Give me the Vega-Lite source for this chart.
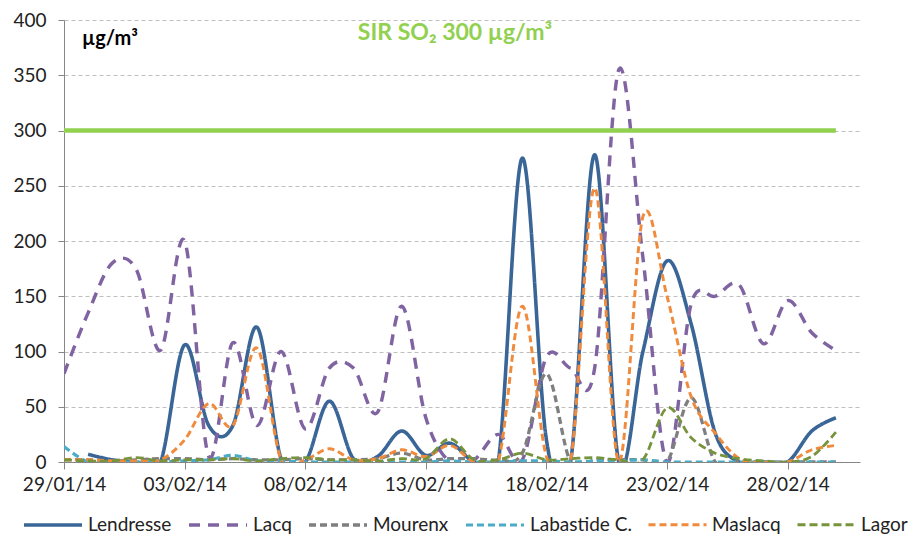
{
  "$schema": "https://vega.github.io/schema/vega-lite/v6.json",
  "width": 796,
  "height": 442,
  "autosize": {"type": "none"},
  "padding": {"left": 64, "top": 20, "right": 50, "bottom": 72},
  "background": "white",
  "config": {
    "font": "Lato",
    "view": {"stroke": null},
    "legend": {
      "title": null, "orient": "none", "direction": "horizontal",
      "legendX": -42, "legendY": 474,
      "symbolType": "stroke", "symbolSize": 3364,
      "labelFont": "Lato", "labelFontSize": 19, "labelColor": "#222222",
      "labelOffset": 4, "columnPadding": 10, "labelLimit": 300
    }
  },
  "layer": [
    {
      "data": {"values": [
        {"date":"2014-01-30","station":"Lendresse","value":7},
        {"date":"2014-01-31","station":"Lendresse","value":2},
        {"date":"2014-02-01","station":"Lendresse","value":0},
        {"date":"2014-02-02","station":"Lendresse","value":0},
        {"date":"2014-02-03","station":"Lendresse","value":106},
        {"date":"2014-02-04","station":"Lendresse","value":33},
        {"date":"2014-02-05","station":"Lendresse","value":33},
        {"date":"2014-02-06","station":"Lendresse","value":122},
        {"date":"2014-02-07","station":"Lendresse","value":3},
        {"date":"2014-02-08","station":"Lendresse","value":0},
        {"date":"2014-02-09","station":"Lendresse","value":55},
        {"date":"2014-02-10","station":"Lendresse","value":3},
        {"date":"2014-02-11","station":"Lendresse","value":5},
        {"date":"2014-02-12","station":"Lendresse","value":28},
        {"date":"2014-02-13","station":"Lendresse","value":6},
        {"date":"2014-02-14","station":"Lendresse","value":17},
        {"date":"2014-02-15","station":"Lendresse","value":0},
        {"date":"2014-02-16","station":"Lendresse","value":0},
        {"date":"2014-02-17","station":"Lendresse","value":275},
        {"date":"2014-02-18","station":"Lendresse","value":20},
        {"date":"2014-02-19","station":"Lendresse","value":0},
        {"date":"2014-02-20","station":"Lendresse","value":278},
        {"date":"2014-02-21","station":"Lendresse","value":0},
        {"date":"2014-02-22","station":"Lendresse","value":100},
        {"date":"2014-02-23","station":"Lendresse","value":182},
        {"date":"2014-02-24","station":"Lendresse","value":125},
        {"date":"2014-02-25","station":"Lendresse","value":26},
        {"date":"2014-02-26","station":"Lendresse","value":0},
        {"date":"2014-02-27","station":"Lendresse","value":0},
        {"date":"2014-02-28","station":"Lendresse","value":0},
        {"date":"2014-03-01","station":"Lendresse","value":28},
        {"date":"2014-03-02","station":"Lendresse","value":40},

        {"date":"2014-01-29","station":"Lacq","value":80},
        {"date":"2014-01-30","station":"Lacq","value":135},
        {"date":"2014-01-31","station":"Lacq","value":180},
        {"date":"2014-02-01","station":"Lacq","value":174},
        {"date":"2014-02-02","station":"Lacq","value":101},
        {"date":"2014-02-03","station":"Lacq","value":200},
        {"date":"2014-02-04","station":"Lacq","value":5},
        {"date":"2014-02-05","station":"Lacq","value":108},
        {"date":"2014-02-06","station":"Lacq","value":33},
        {"date":"2014-02-07","station":"Lacq","value":100},
        {"date":"2014-02-08","station":"Lacq","value":30},
        {"date":"2014-02-09","station":"Lacq","value":85},
        {"date":"2014-02-10","station":"Lacq","value":85},
        {"date":"2014-02-11","station":"Lacq","value":45},
        {"date":"2014-02-12","station":"Lacq","value":141},
        {"date":"2014-02-13","station":"Lacq","value":40},
        {"date":"2014-02-14","station":"Lacq","value":0},
        {"date":"2014-02-15","station":"Lacq","value":2},
        {"date":"2014-02-16","station":"Lacq","value":25},
        {"date":"2014-02-17","station":"Lacq","value":2},
        {"date":"2014-02-18","station":"Lacq","value":95},
        {"date":"2014-02-19","station":"Lacq","value":85},
        {"date":"2014-02-20","station":"Lacq","value":85},
        {"date":"2014-02-21","station":"Lacq","value":355},
        {"date":"2014-02-22","station":"Lacq","value":185},
        {"date":"2014-02-23","station":"Lacq","value":0},
        {"date":"2014-02-24","station":"Lacq","value":143},
        {"date":"2014-02-25","station":"Lacq","value":150},
        {"date":"2014-02-26","station":"Lacq","value":160},
        {"date":"2014-02-27","station":"Lacq","value":107},
        {"date":"2014-02-28","station":"Lacq","value":146},
        {"date":"2014-03-01","station":"Lacq","value":117},
        {"date":"2014-03-02","station":"Lacq","value":101},

        {"date":"2014-01-29","station":"Mourenx","value":2},
        {"date":"2014-01-30","station":"Mourenx","value":2},
        {"date":"2014-01-31","station":"Mourenx","value":1},
        {"date":"2014-02-01","station":"Mourenx","value":2},
        {"date":"2014-02-02","station":"Mourenx","value":3},
        {"date":"2014-02-03","station":"Mourenx","value":3},
        {"date":"2014-02-04","station":"Mourenx","value":2},
        {"date":"2014-02-05","station":"Mourenx","value":3},
        {"date":"2014-02-06","station":"Mourenx","value":2},
        {"date":"2014-02-07","station":"Mourenx","value":2},
        {"date":"2014-02-08","station":"Mourenx","value":3},
        {"date":"2014-02-09","station":"Mourenx","value":2},
        {"date":"2014-02-10","station":"Mourenx","value":2},
        {"date":"2014-02-11","station":"Mourenx","value":3},
        {"date":"2014-02-12","station":"Mourenx","value":8},
        {"date":"2014-02-13","station":"Mourenx","value":2},
        {"date":"2014-02-14","station":"Mourenx","value":3},
        {"date":"2014-02-15","station":"Mourenx","value":3},
        {"date":"2014-02-16","station":"Mourenx","value":2},
        {"date":"2014-02-17","station":"Mourenx","value":8},
        {"date":"2014-02-18","station":"Mourenx","value":80},
        {"date":"2014-02-19","station":"Mourenx","value":0},
        {"date":"2014-02-20","station":"Mourenx","value":2},
        {"date":"2014-02-21","station":"Mourenx","value":2},
        {"date":"2014-02-22","station":"Mourenx","value":2},
        {"date":"2014-02-23","station":"Mourenx","value":0},
        {"date":"2014-02-24","station":"Mourenx","value":58},
        {"date":"2014-02-25","station":"Mourenx","value":0},
        {"date":"2014-02-26","station":"Mourenx","value":1},
        {"date":"2014-02-27","station":"Mourenx","value":0},
        {"date":"2014-02-28","station":"Mourenx","value":0},
        {"date":"2014-03-01","station":"Mourenx","value":0},
        {"date":"2014-03-02","station":"Mourenx","value":0},

        {"date":"2014-01-29","station":"Labastide C.","value":14},
        {"date":"2014-01-30","station":"Labastide C.","value":0},
        {"date":"2014-01-31","station":"Labastide C.","value":0},
        {"date":"2014-02-01","station":"Labastide C.","value":0},
        {"date":"2014-02-02","station":"Labastide C.","value":0},
        {"date":"2014-02-03","station":"Labastide C.","value":1},
        {"date":"2014-02-04","station":"Labastide C.","value":2},
        {"date":"2014-02-05","station":"Labastide C.","value":6},
        {"date":"2014-02-06","station":"Labastide C.","value":1},
        {"date":"2014-02-07","station":"Labastide C.","value":1},
        {"date":"2014-02-08","station":"Labastide C.","value":0},
        {"date":"2014-02-09","station":"Labastide C.","value":0},
        {"date":"2014-02-10","station":"Labastide C.","value":0},
        {"date":"2014-02-11","station":"Labastide C.","value":0},
        {"date":"2014-02-12","station":"Labastide C.","value":0},
        {"date":"2014-02-13","station":"Labastide C.","value":0},
        {"date":"2014-02-14","station":"Labastide C.","value":1},
        {"date":"2014-02-15","station":"Labastide C.","value":0},
        {"date":"2014-02-16","station":"Labastide C.","value":0},
        {"date":"2014-02-17","station":"Labastide C.","value":1},
        {"date":"2014-02-18","station":"Labastide C.","value":1},
        {"date":"2014-02-19","station":"Labastide C.","value":0},
        {"date":"2014-02-20","station":"Labastide C.","value":1},
        {"date":"2014-02-21","station":"Labastide C.","value":1},
        {"date":"2014-02-22","station":"Labastide C.","value":2},
        {"date":"2014-02-23","station":"Labastide C.","value":0},
        {"date":"2014-02-24","station":"Labastide C.","value":0},
        {"date":"2014-02-25","station":"Labastide C.","value":0},
        {"date":"2014-02-26","station":"Labastide C.","value":0},
        {"date":"2014-02-27","station":"Labastide C.","value":0},
        {"date":"2014-02-28","station":"Labastide C.","value":0},
        {"date":"2014-03-01","station":"Labastide C.","value":0},
        {"date":"2014-03-02","station":"Labastide C.","value":0},

        {"date":"2014-01-29","station":"Maslacq","value":2},
        {"date":"2014-01-30","station":"Maslacq","value":2},
        {"date":"2014-01-31","station":"Maslacq","value":1},
        {"date":"2014-02-01","station":"Maslacq","value":1},
        {"date":"2014-02-02","station":"Maslacq","value":2},
        {"date":"2014-02-03","station":"Maslacq","value":20},
        {"date":"2014-02-04","station":"Maslacq","value":53},
        {"date":"2014-02-05","station":"Maslacq","value":33},
        {"date":"2014-02-06","station":"Maslacq","value":103},
        {"date":"2014-02-07","station":"Maslacq","value":2},
        {"date":"2014-02-08","station":"Maslacq","value":2},
        {"date":"2014-02-09","station":"Maslacq","value":12},
        {"date":"2014-02-10","station":"Maslacq","value":2},
        {"date":"2014-02-11","station":"Maslacq","value":3},
        {"date":"2014-02-12","station":"Maslacq","value":11},
        {"date":"2014-02-13","station":"Maslacq","value":5},
        {"date":"2014-02-14","station":"Maslacq","value":15},
        {"date":"2014-02-15","station":"Maslacq","value":0},
        {"date":"2014-02-16","station":"Maslacq","value":0},
        {"date":"2014-02-17","station":"Maslacq","value":141},
        {"date":"2014-02-18","station":"Maslacq","value":5},
        {"date":"2014-02-19","station":"Maslacq","value":0},
        {"date":"2014-02-20","station":"Maslacq","value":248},
        {"date":"2014-02-21","station":"Maslacq","value":0},
        {"date":"2014-02-22","station":"Maslacq","value":222},
        {"date":"2014-02-23","station":"Maslacq","value":150},
        {"date":"2014-02-24","station":"Maslacq","value":59},
        {"date":"2014-02-25","station":"Maslacq","value":26},
        {"date":"2014-02-26","station":"Maslacq","value":3},
        {"date":"2014-02-27","station":"Maslacq","value":0},
        {"date":"2014-02-28","station":"Maslacq","value":0},
        {"date":"2014-03-01","station":"Maslacq","value":11},
        {"date":"2014-03-02","station":"Maslacq","value":15},

        {"date":"2014-01-29","station":"Lagor","value":2},
        {"date":"2014-01-30","station":"Lagor","value":1},
        {"date":"2014-01-31","station":"Lagor","value":1},
        {"date":"2014-02-01","station":"Lagor","value":4},
        {"date":"2014-02-02","station":"Lagor","value":1},
        {"date":"2014-02-03","station":"Lagor","value":2},
        {"date":"2014-02-04","station":"Lagor","value":2},
        {"date":"2014-02-05","station":"Lagor","value":3},
        {"date":"2014-02-06","station":"Lagor","value":1},
        {"date":"2014-02-07","station":"Lagor","value":3},
        {"date":"2014-02-08","station":"Lagor","value":4},
        {"date":"2014-02-09","station":"Lagor","value":2},
        {"date":"2014-02-10","station":"Lagor","value":2},
        {"date":"2014-02-11","station":"Lagor","value":1},
        {"date":"2014-02-12","station":"Lagor","value":3},
        {"date":"2014-02-13","station":"Lagor","value":3},
        {"date":"2014-02-14","station":"Lagor","value":21},
        {"date":"2014-02-15","station":"Lagor","value":2},
        {"date":"2014-02-16","station":"Lagor","value":2},
        {"date":"2014-02-17","station":"Lagor","value":8},
        {"date":"2014-02-18","station":"Lagor","value":2},
        {"date":"2014-02-19","station":"Lagor","value":3},
        {"date":"2014-02-20","station":"Lagor","value":4},
        {"date":"2014-02-21","station":"Lagor","value":2},
        {"date":"2014-02-22","station":"Lagor","value":2},
        {"date":"2014-02-23","station":"Lagor","value":49},
        {"date":"2014-02-24","station":"Lagor","value":22},
        {"date":"2014-02-25","station":"Lagor","value":8},
        {"date":"2014-02-26","station":"Lagor","value":3},
        {"date":"2014-02-27","station":"Lagor","value":1},
        {"date":"2014-02-28","station":"Lagor","value":0},
        {"date":"2014-03-01","station":"Lagor","value":5},
        {"date":"2014-03-02","station":"Lagor","value":27}
      ]},
      "mark": {"type": "line", "interpolate": "cardinal", "clip": true},
      "encoding": {
        "x": {
          "field": "date", "type": "temporal",
          "scale": {"type": "utc", "domain": [{"year": 2014, "month": 1, "date": 29, "utc": true}, {"year": 2014, "month": 3, "date": 3, "utc": true}]},
          "axis": {
            "title": null,
            "values": [
              {"year": 2014, "month": 1, "date": 29, "utc": true},
              {"year": 2014, "month": 2, "date": 3, "utc": true},
              {"year": 2014, "month": 2, "date": 8, "utc": true},
              {"year": 2014, "month": 2, "date": 13, "utc": true},
              {"year": 2014, "month": 2, "date": 18, "utc": true},
              {"year": 2014, "month": 2, "date": 23, "utc": true},
              {"year": 2014, "month": 2, "date": 28, "utc": true}
            ],
            "format": "%d/%m/%y",
            "grid": false,
            "labelFont": "Lato", "labelFontSize": 19, "labelColor": "#222222",
            "labelPadding": 6, "labelFlush": false, "labelOverlap": false,
            "domainColor": "#868686", "tickColor": "#868686", "tickSize": 7
          }
        },
        "y": {
          "field": "value", "type": "quantitative",
          "scale": {"domain": [0, 400], "nice": false},
          "axis": {
            "title": null,
            "values": [0, 50, 100, 150, 200, 250, 300, 350, 400],
            "grid": true, "gridDash": [4, 3], "gridColor": "#BFBFBF",
            "labelFont": "Lato", "labelFontSize": 19, "labelColor": "#222222",
            "labelPadding": 12,
            "domainColor": "#868686", "tickColor": "#868686", "tickSize": 6
          }
        },
        "color": {
          "field": "station", "type": "nominal",
          "scale": {
            "domain": ["Lendresse", "Lacq", "Mourenx", "Labastide C.", "Maslacq", "Lagor"],
            "range": ["#3A6597", "#8064A2", "#7F7F7F", "#4BACC6", "#F08A3C", "#77933C"]
          },
          "legend": {"title": null}
        },
        "strokeDash": {
          "field": "station", "type": "nominal",
          "scale": {
            "domain": ["Lendresse", "Lacq", "Mourenx", "Labastide C.", "Maslacq", "Lagor"],
            "range": [[1, 0], [11, 8], [7, 4], [7, 4], [7, 4], [8, 4]]
          },
          "legend": {"title": null}
        },
        "strokeWidth": {
          "field": "station", "type": "nominal",
          "scale": {
            "domain": ["Lendresse", "Lacq", "Mourenx", "Labastide C.", "Maslacq", "Lagor"],
            "range": [3.6, 2.8, 3, 2.6, 3, 3]
          },
          "legend": {"title": null}
        }
      }
    },
    {
      "data": {"values": [
        {"date": "2014-01-29", "value": 300},
        {"date": "2014-03-02", "value": 300}
      ]},
      "mark": {"type": "line", "color": "#92D050", "strokeWidth": 4.5},
      "encoding": {
        "x": {"field": "date", "type": "temporal"},
        "y": {"field": "value", "type": "quantitative"}
      }
    },
    {
      "data": {"values": [
        {"date": "2014-02-14T05:00:00Z", "value": 382, "label": "SIR SO₂ 300 µg/m³"}
      ]},
      "mark": {"type": "text", "align": "center", "baseline": "alphabetic", "font": "Lato", "fontSize": 23, "fontWeight": "bold", "color": "#92D050"},
      "encoding": {
        "x": {"field": "date", "type": "temporal"},
        "y": {"field": "value", "type": "quantitative"},
        "text": {"field": "label"}
      }
    },
    {
      "data": {"values": [
        {"date": "2014-01-29T18:00:00Z", "value": 377, "label": "µg/m³"}
      ]},
      "mark": {"type": "text", "align": "left", "baseline": "alphabetic", "font": "Lato", "fontSize": 20, "fontWeight": "bold", "color": "#000000"},
      "encoding": {
        "x": {"field": "date", "type": "temporal"},
        "y": {"field": "value", "type": "quantitative"},
        "text": {"field": "label"}
      }
    }
  ]
}
